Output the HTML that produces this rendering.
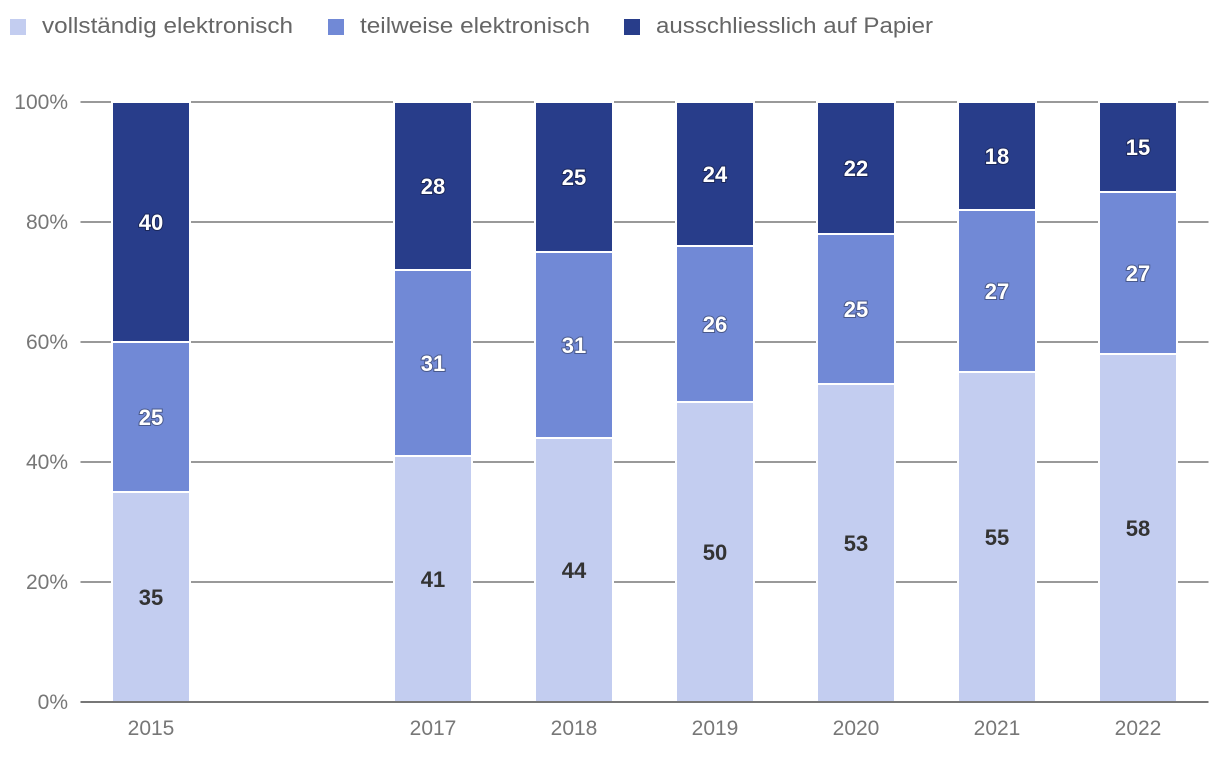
<!DOCTYPE html>
<html><head><meta charset="utf-8"><style>
body{margin:0;background:#fff;font-family:"Liberation Sans",sans-serif}
svg{display:block}
</style></head><body>
<svg id="chart" width="1220" height="760" xmlns="http://www.w3.org/2000/svg">
<g>
<g><rect x="10" y="19" width="16" height="16" fill="#c3cdf0"/><text x="42" y="33" font-size="22" fill="#666" textLength="251" lengthAdjust="spacingAndGlyphs">vollständig elektronisch</text></g>
<g><rect x="328" y="19" width="16" height="16" fill="#7189d6"/><text x="360" y="33" font-size="22" fill="#666" textLength="230" lengthAdjust="spacingAndGlyphs">teilweise elektronisch</text></g>
<g><rect x="624" y="19" width="16" height="16" fill="#283d8a"/><text x="656" y="33" font-size="22" fill="#666" textLength="277" lengthAdjust="spacingAndGlyphs">ausschliesslich auf Papier</text></g>
</g>
<g id="grid"></g>
<g id="bars"></g>
<g id="labels"></g>
<g id="axes"></g>
</svg>
<script>
const categories=["2015","2016","2017","2018","2019","2020","2021","2022"];
const vollstaendig=[35,null,41,44,50,53,55,58];
const teilweise=[25,null,31,31,26,25,27,27];
const papier=[40,null,28,25,24,22,18,15];
const yTicks=[0,20,40,60,80,100];
const tickLabels=["0%","20%","40%","60%","80%","100%"];
const seriesList=[vollstaendig,teilweise,papier];
const colors=["#c3cdf0","#7189d6","#283d8a"];
const NS="http://www.w3.org/2000/svg";
const x0=80.5,x1=1208.5,y0=702,y1=102;
const band=(x1-x0)/categories.length,bw=78;
const xC=i=>x0+band*(i+0.5);
const yS=v=>y0-(v/100)*(y0-y1);
function mk(t,a,p){const e=document.createElementNS(NS,t);for(const k in a)e.setAttribute(k,a[k]);p.appendChild(e);return e;}
const grid=document.getElementById('grid'),bars=document.getElementById('bars'),labels=document.getElementById('labels'),axes=document.getElementById('axes');
yTicks.forEach((v,i)=>{
 if(v>0){const l=mk('line',{x1:x0,x2:x1,y1:yS(v),y2:yS(v),stroke:'#999','stroke-width':2},grid);
 
 }
 const t=mk('text',{x:68,y:yS(v)+7,'font-size':21,fill:'#777','text-anchor':'end'},axes);t.textContent=tickLabels[i];
 
 
});
const base=mk('line',{x1:x0,x2:x1,y1:y0,y2:y0,stroke:'#777','stroke-width':2},axes);


categories.forEach((c,i)=>{
 const t=mk('text',{x:xC(i),y:735,'font-size':21,fill:'#777','text-anchor':'middle'},axes);
 t.textContent=(vollstaendig[i]==null?'':c);
 
 
 let acc=0;
 seriesList.forEach((s,k)=>{
  const v=s[i];if(v==null)return;
  const top=yS(acc+v),bot=yS(acc);
  const r=mk('rect',{x:xC(i)-bw/2,y:top,width:bw,height:bot-top,fill:colors[k],stroke:'#fff','stroke-width':2},bars);
  
  
  const tx=mk('text',{x:xC(i),y:(top+bot)/2+8,'font-size':22,'font-weight':'bold','text-anchor':'middle',fill:k==0?'#333':'#fff',style:k==0?'':'paint-order:stroke;stroke:rgba(0,0,0,0.35);stroke-width:2px'},labels);
  tx.textContent=v;
  
  
  acc+=v;
 });
});
</script>
</body></html>
